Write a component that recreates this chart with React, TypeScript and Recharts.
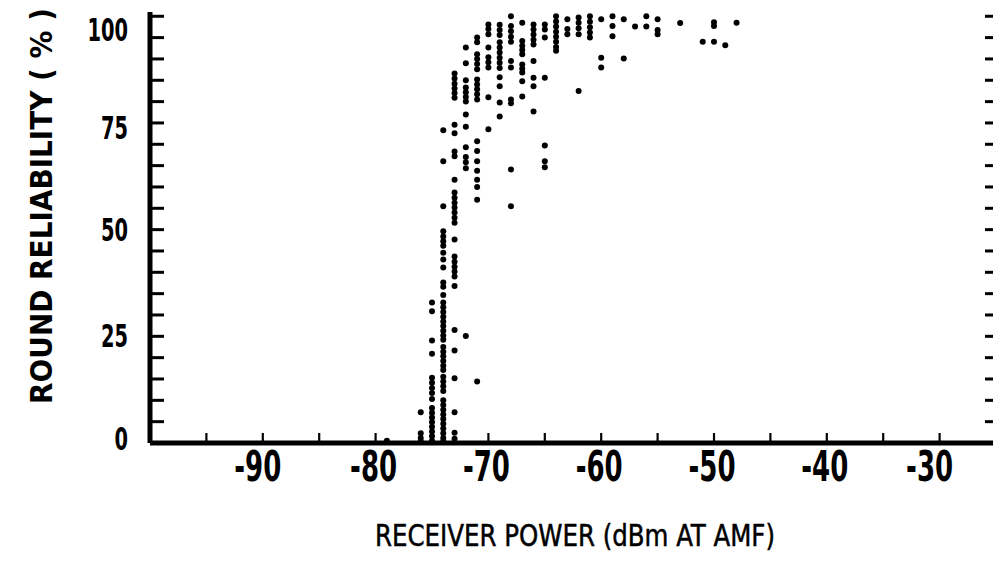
import React from 'react';
import { ScatterChart, Scatter, XAxis, YAxis } from 'recharts';

// Receiver power columns (dBm) and the round-reliability values (%) read in each column
const receiverPower: number[] = [
  -79, -76, -75, -74, -73, -72, -71, -70, -69, -68, -67, -66, -65, -64, -63, -62,
  -61, -60, -59, -58, -57, -56, -55, -53, -51, -50, -49, -48,
];

const reliabilityByPower: number[][] = [
  [0.5],
  [7.2, 2.3, 1.2, 0.4],
  [32.9, 30.9, 24.0, 20.9, 15.3, 14.1, 12.9, 11.7, 10.3, 8.2, 7.1, 6.0, 4.9, 3.8, 2.7, 1.6, 0.5],
  [73.3, 66.0, 55.5, 49.6, 48.4, 47.3, 46.2, 44.6, 43.0, 41.1, 37.6, 36.6, 34.7, 32.9, 31.8, 30.7,
    29.6, 28.5, 27.4, 26.3, 25.2, 24.2, 22.5, 21.4, 20.3, 19.2, 18.1, 17.1, 15.5, 14.4, 13.3, 12.2,
    10.0, 8.9, 7.8, 6.7, 5.6, 4.5, 3.4, 2.3, 1.2, 0.4],
  [86.6, 85.4, 84.2, 83.1, 82.0, 80.9, 74.6, 72.6, 68.3, 67.2, 61.7, 58.7, 57.5, 56.3, 55.2, 54.0,
    52.8, 51.6, 47.7, 43.7, 42.5, 41.3, 40.2, 39.0, 36.8, 26.5, 21.7, 15.2, 7.2, 2.4, 1.0],
  [92.7, 89.0, 85.0, 83.3, 82.2, 81.1, 80.0, 77.0, 74.1, 69.3, 67.0, 65.8, 64.4, 25.1],
  [95.0, 93.9, 91.1, 90.0, 88.8, 87.6, 85.2, 84.0, 82.9, 81.7, 80.5, 70.7, 68.4, 66.0, 63.8, 61.7,
    60.0, 57.0, 14.4],
  [98.1, 97.0, 95.8, 92.7, 90.4, 89.2, 88.0, 81.0, 73.5],
  [98.0, 96.8, 95.6, 93.9, 92.7, 91.5, 90.3, 89.1, 87.9, 85.7, 83.6, 79.8, 76.5],
  [100.0, 97.7, 96.5, 95.2, 94.0, 89.5, 88.0, 80.5, 79.6, 64.1, 55.5],
  [98.5, 94.2, 93.1, 92.1, 91.1, 88.7, 87.7, 86.8, 84.8, 81.2],
  [98.1, 96.9, 95.7, 94.5, 93.4, 89.5, 85.6, 83.6, 77.7],
  [98.1, 96.9, 95.0, 85.6, 69.7, 66.0, 64.6],
  [100.0, 98.8, 97.6, 96.4, 95.2, 94.0, 92.8, 91.9],
  [99.3, 97.0, 95.8],
  [99.7, 98.5, 97.2, 95.8, 82.5],
  [100.0, 98.7, 97.4, 96.2, 95.0],
  [99.3, 90.3, 88.0],
  [100.0, 97.7, 95.3],
  [99.3, 90.1],
  [97.6],
  [100.0, 97.6],
  [99.3, 96.8, 95.8],
  [98.4],
  [94.0],
  [98.6, 97.7, 94.0],
  [93.2],
  [98.5],
];

const xTicks: number[] = [-95, -90, -85, -80, -75, -70, -65, -60, -55, -50, -45, -40, -35, -30];
const xLabelTicks: number[] = [-90, -80, -70, -60, -50, -40, -30];
const yTicks: number[] = [0, 5, 10, 15, 20, 25, 30, 35, 40, 45, 50, 55, 60, 65, 70, 75, 80, 85, 90, 95, 100];
const yLabelTicks: number[] = [0, 25, 50, 75, 100];
const xTitle = 'RECEIVER POWER (dBm AT AMF)';
const yTitle = 'ROUND RELIABILITY  ( % )';

const points = receiverPower.flatMap((x, i) => reliabilityByPower[i].map((y) => ({ x, y })));

const FONT = "'DejaVu Sans Condensed', 'DejaVu Sans', sans-serif";

// small vertical nudges of the typed y labels, as set in the original figure
const yLabelNudge = (v: number) => (v === 100 ? 14 : v === 75 ? 5 : v === 0 ? -4 : 0);
// small horizontal nudges of the typed x labels, as set in the original figure
const xLabelNudge = (v: number) => (v === -30 ? -8 : v === -90 ? -3 : 0);

const BottomTick = (props: any) => {
  const { x, y, payload } = props;
  const v = payload.value;
  return (
    <g>
      <line x1={x} y1={y} x2={x} y2={y - 10} stroke="#000" strokeWidth={2.2} />
      {xLabelTicks.includes(v) && (
        <text x={x - 2 + xLabelNudge(v)} y={y + 38} textAnchor="middle" fontFamily={FONT} fontWeight="bold" fontSize={42}
          fill="#000" textLength={47} lengthAdjust="spacingAndGlyphs">
          {String(v)}
        </text>
      )}
    </g>
  );
};

const LeftTick = (props: any) => {
  const { x, y, payload } = props;
  const v = payload.value;
  const s = String(v);
  return (
    <g>
      <line x1={x} y1={y} x2={x + 14} y2={y} stroke="#000" strokeWidth={3} />
      {yLabelTicks.includes(v) && (
        <text x={x - 22} y={y + 11 + yLabelNudge(v)} textAnchor="end" fontFamily={FONT} fontWeight="bold"
          fontSize={32} fill="#000" textLength={s.length * 13.5} lengthAdjust="spacingAndGlyphs">
          {s}
        </text>
      )}
    </g>
  );
};

const RightTick = (props: any) => {
  const { x, y } = props;
  return <line x1={x} y1={y} x2={x - 11} y2={y} stroke="#000" strokeWidth={3} />;
};

const XTitle = (props: any) => {
  const vb = props.viewBox || { x: 150, y: 443, width: 846, height: 132 };
  const cx = vb.x + vb.width / 2 + 2;
  return (
    <text x={cx - 200} y={vb.y + 103} fontFamily={FONT} fontSize={30} fill="#000" stroke="#000"
      strokeWidth={0.5} textLength={400} lengthAdjust="spacingAndGlyphs">
      {xTitle}
    </text>
  );
};

const YTitle = (props: any) => {
  const vb = props.viewBox || { x: 0, y: 12, width: 150, height: 431 };
  const cx = vb.x + 41;
  const cy = 206;
  return (
    <text x={cx} y={cy} transform={`rotate(-90 ${cx} ${cy})`} textAnchor="middle" dominantBaseline="central"
      fontFamily={FONT} fontWeight="bold" fontSize={31} fill="#000">
      {yTitle}
    </text>
  );
};

const Dot = (props: any) => <circle cx={props.cx} cy={props.cy} r={3} fill="#000" />;

export default function App() {
  return (
    <div style={{ position: 'absolute', left: 0, top: 0, width: 993, height: 575, overflow: 'hidden', background: '#fff' }}>
      <ScatterChart width={1000} height={575} margin={{ top: 12, right: 0, bottom: 0, left: 0 }}>
        <XAxis
          xAxisId="bottom"
          type="number"
          dataKey="x"
          domain={[-100, -25]}
          ticks={xTicks}
          interval={0}
          height={132}
          tickSize={0}
          tickMargin={0}
          tickLine={false}
          axisLine={{ stroke: '#000', strokeWidth: 5 }}
          tick={<BottomTick />}
          allowDataOverflow
          label={<XTitle />}
        />
        <XAxis
          xAxisId="top"
          orientation="top"
          type="number"
          domain={[-100, -25]}
          height={0}
          tick={false}
          tickLine={false}
          axisLine={{ stroke: '#000', strokeWidth: 5 }}
          allowDataOverflow
        />
        <YAxis
          yAxisId="left"
          type="number"
          dataKey="y"
          domain={[0, 101]}
          ticks={yTicks}
          interval={0}
          width={150}
          tickSize={0}
          tickMargin={0}
          tickLine={false}
          axisLine={{ stroke: '#000', strokeWidth: 5 }}
          tick={<LeftTick />}
          allowDataOverflow
          label={<YTitle />}
        />
        <YAxis
          yAxisId="right"
          orientation="right"
          type="number"
          domain={[0, 101]}
          ticks={yTicks}
          interval={0}
          width={4}
          tickSize={0}
          tickMargin={0}
          tickLine={false}
          axisLine={{ stroke: '#000', strokeWidth: 5 }}
          tick={<RightTick />}
          allowDataOverflow
        />
        <Scatter data={points} xAxisId="bottom" yAxisId="left" fill="#000" shape={Dot} isAnimationActive={false} />
      </ScatterChart>
    </div>
  );
}
